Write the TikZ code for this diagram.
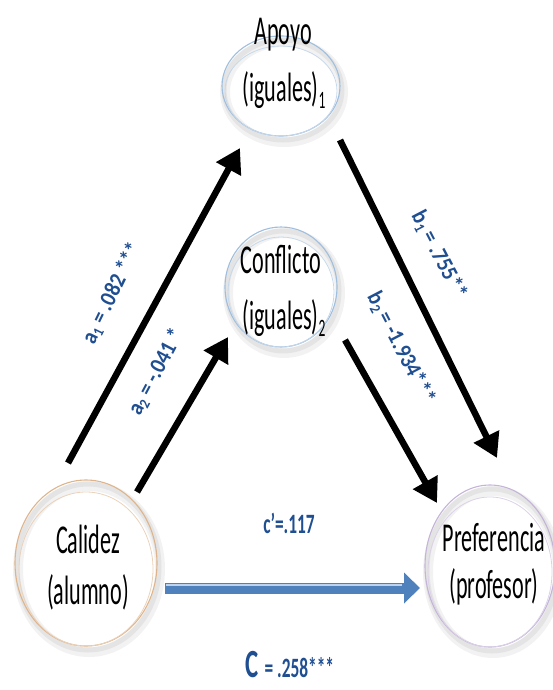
\documentclass[tikz,border=0pt]{standalone}
\usepackage{fontspec}
\setmainfont{Carlito}
\newfontfamily\nodefont[FakeStretch=0.54]{Carlito}
\newfontfamily\labfont[FakeStretch=0.9]{Carlito}
\newfontfamily\cfont[FakeStretch=0.62]{Carlito}
\usetikzlibrary{arrows.meta,shapes.geometric}
\definecolor{labblue}{RGB}{31,78,145}
\definecolor{ringblue}{RGB}{160,190,222}
\definecolor{ringtan}{RGB}{222,180,140}
\definecolor{ringlav}{RGB}{196,180,216}
\definecolor{cblue}{RGB}{79,129,189}
\definecolor{clight}{RGB}{190,212,238}
\newcommand\nsub[1]{\raisebox{-7pt}{\fontsize{25}{25}\selectfont #1}}
\newcommand\lsub[1]{\raisebox{-3pt}{\fontsize{15}{15}\selectfont #1}}
\tikzset{
  ring/.style={ellipse, draw=#1, line width=1.1pt, inner sep=0pt},
  ntext/.style={font=\nodefont\fontsize{41}{41}\selectfont, anchor=base, inner sep=0pt},
  lab/.style={font=\labfont\bfseries\fontsize{23}{23}\selectfont, text=labblue, inner sep=0pt},
  arr/.style={line width=6.5pt, black, -{Triangle[length=24pt,width=27pt]}},
  carr/.style={line width=11pt, cblue, -{Triangle[length=16pt,width=30pt]}},
}
\begin{document}
\begin{tikzpicture}[x=1pt,y=-1pt]
\useasboundingbox (0,0) rectangle (552,690);
% shadows
\foreach \cx/\cy/\rx/\ry in {281/86/59/50, 281/287/56/60, 86/563/71/83, 490/566/65/81}{
  \draw[black, opacity=0.05, line width=10pt] (\cx+3,\cy+6) ellipse [x radius=\rx, y radius=\ry];
  \draw[black, opacity=0.06, line width=5pt] (\cx+2,\cy+4) ellipse [x radius=\rx, y radius=\ry];
}
% rings
\node[ring=ringblue, minimum width=118pt, minimum height=100pt] (apoyo) at (281,86) {};
\node[ring=ringblue, minimum width=112pt, minimum height=120pt] (conflicto) at (281,287) {};
\node[ring=ringtan, minimum width=142pt, minimum height=166pt] (calidez) at (86,563) {};
\node[ring=ringlav, minimum width=130pt, minimum height=162pt] (pref) at (490,566) {};
\draw[ringblue!60, line width=0.8pt] ([yshift=-5pt]apoyo.center) ellipse [x radius=56pt, y radius=45pt];
\draw[ringblue!60, line width=0.8pt] ([yshift=-5pt]conflicto.center) ellipse [x radius=53pt, y radius=55pt];
\draw[ringtan!60, line width=0.8pt] ([yshift=-6pt]calidez.center) ellipse [x radius=67pt, y radius=77pt];
\draw[ringlav!60, line width=0.8pt] ([yshift=-6pt]pref.center) ellipse [x radius=62pt, y radius=75pt];
% texts
\node[ntext] (apoyoA) at (283,45) {Apoyo};
\node[ntext] (apoyoB) at (284,102) {(iguales)\nsub{1}};
\node[ntext] (confA) at (281,273) {Conflicto};
\node[ntext] (confB) at (284,329) {(iguales)\nsub{2}};
\node[ntext] (calA) at (88,553) {Calidez};
\node[ntext] (calB) at (88,604) {(alumno)};
\node[ntext] (prefA) at (494,551) {Preferencia};
\node[ntext] (prefB) at (494,598) {(profesor)};
% arrows
\draw[arr] ([shift={(-18,-100)}]calidez.center) -- ([shift={(-41,62)}]apoyo.center);
\draw[arr] ([shift={(51,-71)}]calidez.center) -- ([shift={(-53,50)}]conflicto.center);
\draw[arr] ([shift={(59,54)}]apoyo.center) -- ([shift={(7,-108)}]pref.center);
\draw[arr] ([shift={(64,53)}]conflicto.center) -- ([shift={(-53,-63)}]pref.center);
\draw[carr] ([shift={(79,25)}]calidez.center) -- ([shift={(-70,22)}]pref.center);
\draw[clight, line width=2.5pt] ([shift={(80,22)}]calidez.center) -- ([shift={(-88,19)}]pref.center);
% labels
\node[lab, rotate=64] (la1) at (112,293) {a\lsub{1} = .082 ***};
\node[lab, rotate=62] (la2) at (156,372) {a\lsub{2} = -.041 *};
\node[lab, rotate=-62.5] (lb1) at (439,255) {b\lsub{1} = .755**};
\node[lab, rotate=-62.5] (lb2) at (401,348) {b\lsub{2} = -1.934***};
\node[lab, font=\cfont\bfseries\fontsize{28}{28}\selectfont] (lc) at (289,523) {c’=.117};
\node[lab, font=\cfont\bfseries, anchor=base] (lC) at (290,677) {\fontsize{40}{40}\selectfont C \fontsize{28}{28}\selectfont= .258***};
\end{tikzpicture}
\end{document}
